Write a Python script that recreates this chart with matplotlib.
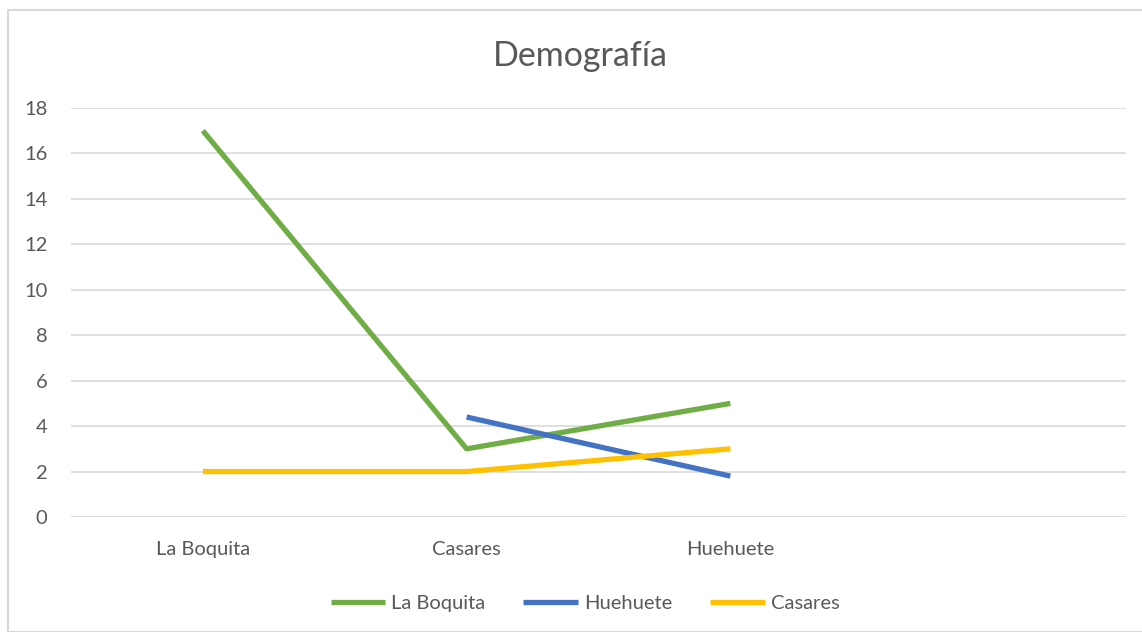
import numpy as np
import matplotlib
matplotlib.use("Agg")
import matplotlib.pyplot as plt
from matplotlib.patches import Rectangle

categories = ["La Boquita", "Casares", "Huehuete", ""]
series_names = ["La Boquita", "Huehuete", "Casares"]
la_boquita = [17, 3, 5, np.nan]
huehuete = [np.nan, 4.4, 1.8, np.nan]
casares = [2, 2, 3, np.nan]
colors = ["#70AD47", "#4472C4", "#FFC000"]
y_ticks = [0, 2, 4, 6, 8, 10, 12, 14, 16, 18]
title = "Demografía"

plt.rcParams['font.family'] = ['Lato', 'DejaVu Sans']
W, H = 1142, 632
fig = plt.figure(figsize=(W / 100, H / 100), dpi=100)
text_color = "#595959"

# chart border
fig.patches.append(Rectangle((7.5 / W, 0), 1 - 7.5 / W + 0.01, 1 - 10 / H,
                             transform=fig.transFigure, fill=False,
                             edgecolor="#D9D9D9", linewidth=1.5))

left, right, top, bottom = 71, 1126, 108, 517
ax = fig.add_axes([left / W, 1 - bottom / H, (right - left) / W, (bottom - top) / H])

x = np.arange(len(categories)) + 0.5
for vals, name, c in zip([la_boquita, huehuete, casares], series_names, colors):
    ax.plot(x, vals, color=c, linewidth=3.8, label=name, solid_capstyle="butt")

fs = 14.5
ax.set_xlim(0, len(categories))
ax.set_ylim(0, 18)
ax.set_yticks(y_ticks)
ax.set_yticklabels([str(t) for t in y_ticks], fontsize=fs, color=text_color)
ax.set_xticks(x)
ax.set_xticklabels(categories, fontsize=fs, color=text_color)
ax.tick_params(axis="both", length=0)
ax.tick_params(axis="y", pad=17)
ax.tick_params(axis="x", pad=17)
ax.grid(axis="y", color="#D9D9D9", linewidth=1.2)
ax.set_axisbelow(True)
for s in ax.spines.values():
    s.set_visible(False)
ax.axhline(0, color="#D9D9D9", linewidth=1.2, zorder=0.5)

fig.text(580 / W, 1 - 56 / H, title, ha="center", va="center",
         fontsize=24.5, color=text_color)

leg = fig.legend(loc="center", bbox_to_anchor=(585 / W, 1 - 603 / H), ncol=3,
                 frameon=False, fontsize=fs, handlelength=2.7, columnspacing=1.9,
                 handletextpad=0.3)
for t in leg.get_texts():
    t.set_color(text_color)

fig.savefig("out.png", dpi=100)
